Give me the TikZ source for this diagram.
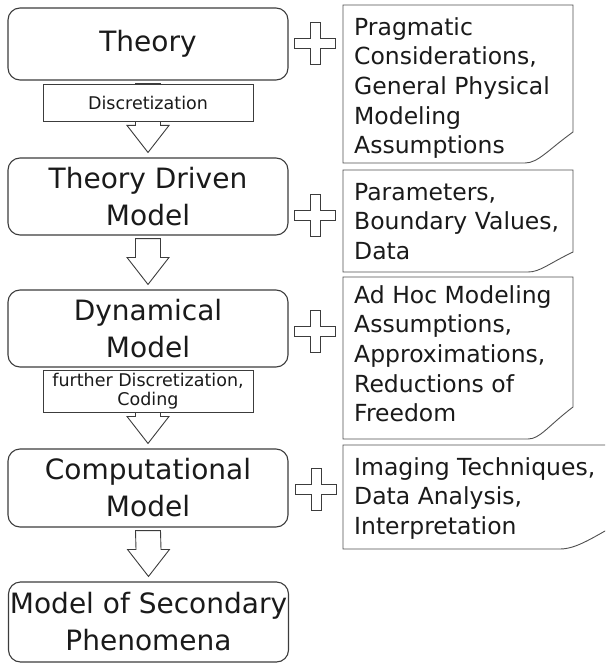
\documentclass[tikz,border=0pt]{standalone}
\usepackage{fontspec}
\setmainfont{DejaVu Sans}
\usetikzlibrary{calc}

\definecolor{edge}{HTML}{3C3C3C}
\definecolor{ink}{HTML}{1A1A1A}

% hollow block arrow from one stage down to the next
\newcommand\flowarrow[2]{%
  \draw[flow] ($(#1.south)+(-12.5,3)$) -- ($(#2.north)+(-12.5,-32)$)
    -- ($(#2.north)+(-21,-32)$) -- ($(#2.north)+(0,-5)$)
    -- ($(#2.north)+(21,-32)$) -- ($(#2.north)+(12.5,-32)$)
    -- ($(#1.south)+(12.5,3)$) -- cycle;}

% hollow plus sign
\newcommand\plusmark[1]{%
  \draw[flow] ($(#1)+(-5,-21)$) -- ($(#1)+(5,-21)$) -- ($(#1)+(5,-5)$)
    -- ($(#1)+(20.5,-5)$) -- ($(#1)+(20.5,5)$) -- ($(#1)+(5,5)$)
    -- ($(#1)+(5,21)$) -- ($(#1)+(-5,21)$) -- ($(#1)+(-5,5)$)
    -- ($(#1)+(-20.5,5)$) -- ($(#1)+(-20.5,-5)$) -- ($(#1)+(-5,-5)$) -- cycle;}

\begin{document}
\begin{tikzpicture}[x=1pt, y=-1pt,
    stage/.style={draw=edge, line width=1.1pt, rounded corners=12pt, fill=white,
      minimum width=280pt, minimum height=77pt, inner sep=0pt, align=center,
      text=ink, font=\fontsize{28}{37}\selectfont},
    tag/.style={draw=edge, line width=0.9pt, fill=white, minimum width=210pt,
      inner sep=0pt, align=center, text=ink, font=\fontsize{17.5}{19}\selectfont},
    flow/.style={draw=edge, line width=0.9pt, fill=white, line join=miter},
    notebox/.style={draw=edge!90, line width=0.9pt},
    notetext/.style={anchor=north west, inner sep=0pt, align=left, text=ink,
      font=\fontsize{23.5}{29.7}\selectfont}]
  \useasboundingbox (0,0) rectangle (605,663);
  \clip (0,0) rectangle (605,663);

  % modelling chain
  \node[stage, minimum height=72pt] (theory) at (148,44) {Theory};
  \node[stage] (driven) at (148,196.5) {Theory Driven\\Model};
  \node[stage] (dynamic) at (148,328.5) {Dynamical\\Model};
  \node[stage, minimum height=78pt] (comput) at (148,488) {Computational\\Model};
  \node[stage, minimum height=80pt] (second) at (148.5,622) {Model of Secondary\\Phenomena};

  \flowarrow{theory}{driven}
  \flowarrow{driven}{dynamic}
  \flowarrow{dynamic}{comput}
  \flowarrow{comput}{second}

  \node[tag, minimum height=37pt] (disc) at (148,102.5) {Discretization};
  \node[tag, minimum height=42pt] (coding) at (148,391) {further Discretization,\\Coding};

  % plus signs
  \coordinate (plusA) at (315,43);
  \coordinate (plusB) at (315,215.5);
  \coordinate (plusC) at (315,331);
  \coordinate (plusD) at (316,489);
  \plusmark{plusA}
  \plusmark{plusB}
  \plusmark{plusC}
  \plusmark{plusD}

  % notes
  \draw[notebox] (343,5) -- (573,5) -- (573,132)
    .. controls (548,150) and (538,163) .. (525,163) -- (343,163) -- cycle;
  \draw[notebox] (343,170) -- (573,170) -- (573,252)
    .. controls (548,264) and (540,272) .. (528,272) -- (343,272) -- cycle;
  \draw[notebox] (343,277) -- (573,277) -- (573,407)
    .. controls (548,426) and (540,439) .. (528,439) -- (343,439) -- cycle;
  \draw[notebox] (343,445) -- (640,445) -- (640,512)
    .. controls (600,532) and (580,549) .. (560,549) -- (343,549) -- cycle;

  \node[notetext] (pragmatic) at (354,17.1) {Pragmatic\\Considerations,\\General Physical\\Modeling\\Assumptions};
  \node[notetext] (params) at (354,182.9) {Parameters,\\Boundary Values,\\Data};
  \node[notetext] (adhoc) at (354,285.1) {Ad Hoc Modeling\\Assumptions,\\Approximations,\\Reductions of\\Freedom};
  \node[notetext] (imaging) at (354,457.1) {Imaging Techniques,\\Data Analysis,\\Interpretation};
\end{tikzpicture}
\end{document}
